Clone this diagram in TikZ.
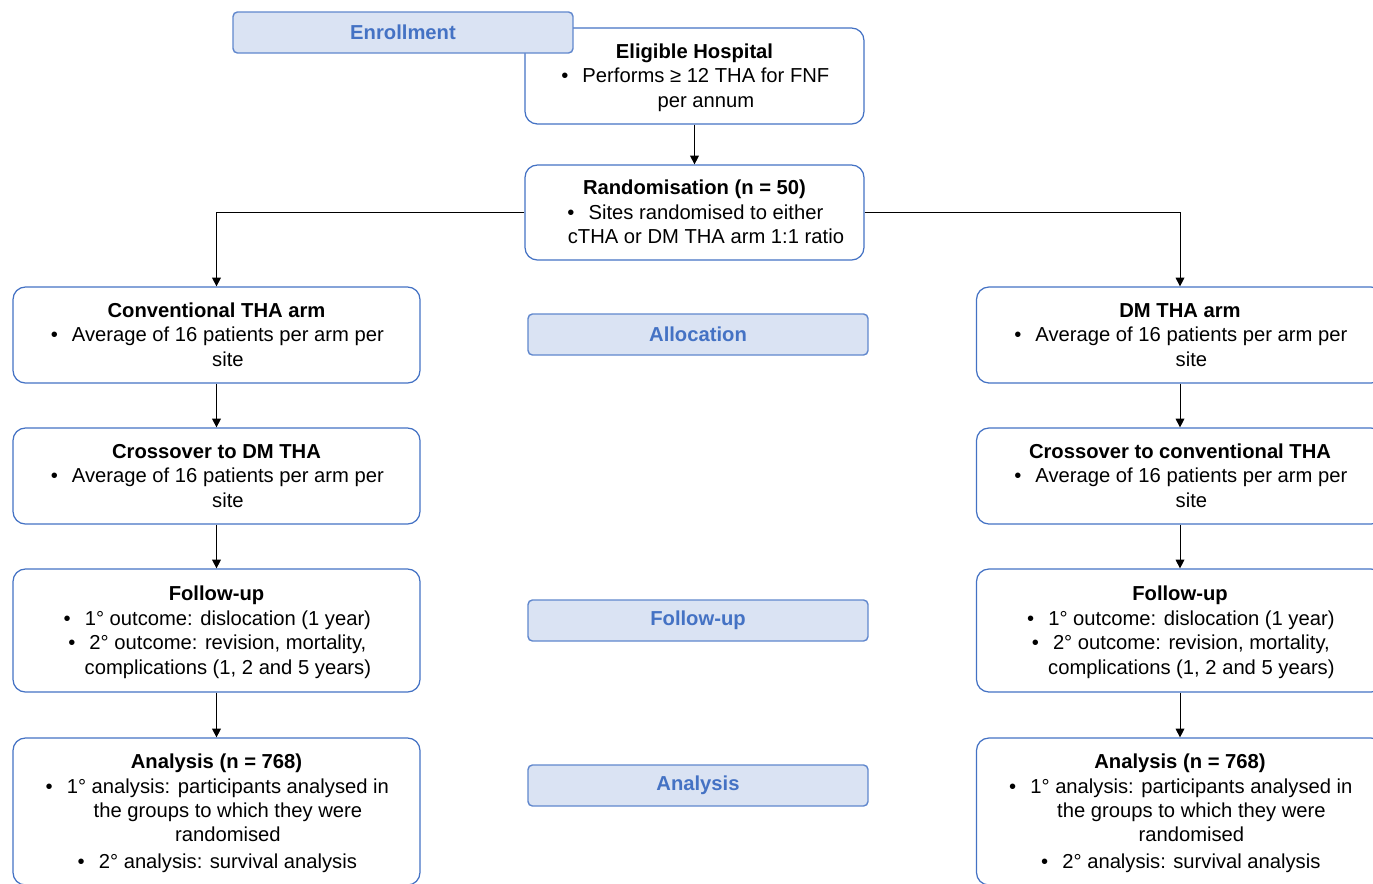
\documentclass[tikz,border=0pt]{standalone}
\usepackage{fontspec}
\setmainfont{Liberation Sans}
\usetikzlibrary{arrows.meta}
\definecolor{boxblue}{HTML}{4472C4}
\definecolor{stagefill}{HTML}{DAE3F3}
\newcommand{\btitle}[1]{\rule{0pt}{12pt}\textbf{#1}}
\newcommand{\bitem}[1]{\hspace*{13pt}\begin{tabular}[t]{@{}c@{}}\llap{\textbullet\hspace{8pt}}#1\end{tabular}}

\begin{document}
\begin{tikzpicture}[x=0.02cm, y=-0.02cm,
    box/.style={draw=boxblue, line width=0.7pt, rounded corners=7pt, fill=white,
        align=center, inner sep=0pt, font=\fontsize{11.5}{13.9}\selectfont},
    stage/.style={draw=boxblue!85, line width=0.8pt, rounded corners=2.5pt, fill=stagefill,
        text=boxblue, inner sep=0pt, minimum width=6.8cm, minimum height=0.82cm,
        font=\fontsize{11.5}{13.9}\selectfont\bfseries},
    arr/.style={-{Triangle[length=5pt, width=5pt]}, line width=0.5pt}]
    \useasboundingbox (0,0) rectangle (1373,883);

    % Top boxes
    \node[box, minimum width=6.78cm, minimum height=1.92cm] (elig) at (694.5,76)
        {\btitle{Eligible Hospital}\\\bitem{Performs ≥ 12 THA for FNF\\per annum}};
    \node[stage] (enrol) at (403,32.5) {Enrollment};
    \node[box, minimum width=6.78cm, minimum height=1.90cm] (rand) at (694.5,212.5)
        {\btitle{Randomisation (n = 50)}\\\bitem{Sites randomised to either\\cTHA or DM THA arm 1:1 ratio}};

    % Left arm
    \node[box, minimum width=8.14cm, minimum height=1.92cm] (conv) at (216.5,335)
        {\btitle{Conventional THA arm}\\\bitem{Average of 16 patients per arm per\\site}};
    \node[box, minimum width=8.14cm, minimum height=1.92cm] (crossL) at (216.5,476)
        {\btitle{Crossover to DM THA}\\\bitem{Average of 16 patients per arm per\\site}};
    \node[box, minimum width=8.14cm, minimum height=2.46cm] (fupL) at (216.5,630.5)
        {\btitle{Follow-up}\\\bitem{1° outcome: dislocation (1 year)}\\
         \bitem{2° outcome: revision, mortality,\\complications (1, 2 and 5 years)}};
    \node[box, minimum width=8.14cm, minimum height=2.94cm] (anaL) at (216.5,811.5)
        {\btitle{Analysis (n = 768)}\\\bitem{1° analysis: participants analysed in\\the groups to which they were\\randomised}\\
         \bitem{2° analysis: survival analysis}};

    % Right arm
    \node[box, minimum width=8.14cm, minimum height=1.92cm] (dm) at (1180,335)
        {\btitle{DM THA arm}\\\bitem{Average of 16 patients per arm per\\site}};
    \node[box, minimum width=8.14cm, minimum height=1.92cm] (crossR) at (1180,476)
        {\btitle{Crossover to conventional THA}\\\bitem{Average of 16 patients per arm per\\site}};
    \node[box, minimum width=8.14cm, minimum height=2.46cm] (fupR) at (1180,630.5)
        {\btitle{Follow-up}\\\bitem{1° outcome: dislocation (1 year)}\\
         \bitem{2° outcome: revision, mortality,\\complications (1, 2 and 5 years)}};
    \node[box, minimum width=8.14cm, minimum height=2.94cm] (anaR) at (1180,811.5)
        {\btitle{Analysis (n = 768)}\\\bitem{1° analysis: participants analysed in\\the groups to which they were\\randomised}\\
         \bitem{2° analysis: survival analysis}};

    % Stage labels
    \node[stage] (alloc) at (698,334.5) {Allocation};
    \node[stage] (fupLab) at (698,620.5) {Follow-up};
    \node[stage] (anaLab) at (698,785.5) {Analysis};

    % Connectors
    \draw[arr] (elig) -- (rand);
    \draw[arr] (rand.west) -| (conv.north);
    \draw[arr] (rand.east) -| (dm.north);
    \draw[arr] (conv) -- (crossL);
    \draw[arr] (crossL) -- (fupL);
    \draw[arr] (fupL) -- (anaL);
    \draw[arr] (dm) -- (crossR);
    \draw[arr] (crossR) -- (fupR);
    \draw[arr] (fupR) -- (anaR);
\end{tikzpicture}
\end{document}
